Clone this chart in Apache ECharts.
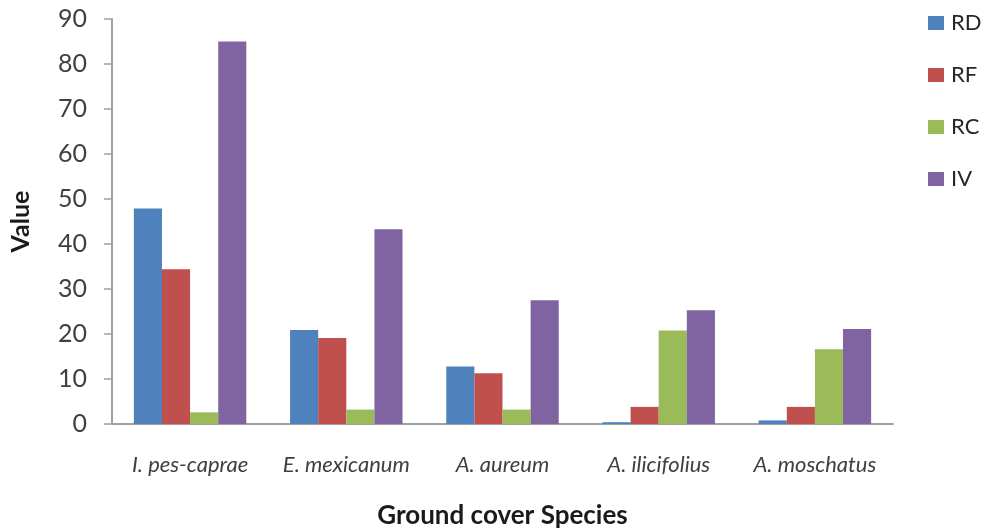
<!DOCTYPE html>
<html>
<head>
<meta charset="utf-8">
<script src="https://cdn.jsdelivr.net/npm/echarts@6/dist/echarts.min.js"></script>
<style>
  html, body { margin: 0; padding: 0; background: #fff; }
  #chart { width: 985px; height: 530px; }
</style>
</head>
<body>
<div id="chart"></div>
<script>
// Ground cover species and their index values
const species = ['I. pes-caprae', 'E. mexicanum', 'A. aureum', 'A. ilicifolius', 'A. moschatus'];
const rd = [47.9, 20.9, 12.8, 0.4, 0.8];
const rf = [34.4, 19.1, 11.3, 3.8, 3.8];
const rc = [2.6, 3.2, 3.2, 20.8, 16.6];
const iv = [85.0, 43.3, 27.5, 25.3, 21.1];
const yTicks = [0, 10, 20, 30, 40, 50, 60, 70, 80, 90];

const font = 'Lato, "Open Sans", sans-serif';
const axisGray = '#a0a0a0';
const textColor = '#404040';

function bar(name, data, color) {
  return {
    name: name,
    type: 'bar',
    data: data,
    barGap: '0%',
    barCategoryGap: '28%',
    barMinHeight: 1,
    itemStyle: { color: color }
  };
}

const chart = echarts.init(document.getElementById('chart'), null, { renderer: 'canvas' });
chart.setOption({
  animation: false,
  backgroundColor: '#ffffff',
  textStyle: { fontFamily: font },
  grid: { left: 112, right: 92, top: 19, bottom: 106, containLabel: false, outerBoundsMode: 'none' },
  legend: {
    orient: 'vertical',
    left: 928,
    top: 12,
    padding: 0,
    itemWidth: 16,
    itemHeight: 14,
    itemGap: 30,
    icon: 'rect',
    textStyle: { fontSize: 22, color: '#262626', fontFamily: font, padding: [0, 0, 0, 2] },
    data: ['RD', 'RF', 'RC', 'IV']
  },
  xAxis: {
    type: 'category',
    data: species,
    name: 'Ground cover Species',
    nameLocation: 'middle',
    nameGap: 79,
    nameTextStyle: { fontSize: 26, fontWeight: 'bold', color: '#1a1a1a', fontFamily: font },
    axisLine: { lineStyle: { color: axisGray, width: 2 } },
    axisTick: { show: false },
    axisLabel: { interval: 0, fontSize: 22, fontStyle: 'italic', color: textColor, margin: 30, fontFamily: font },
    splitLine: { show: false }
  },
  yAxis: {
    type: 'value',
    min: yTicks[0],
    max: yTicks[yTicks.length - 1],
    interval: yTicks[1] - yTicks[0],
    name: 'Value',
    nameLocation: 'middle',
    nameRotate: 90,
    nameGap: 79,
    nameTextStyle: { fontSize: 25, fontWeight: 'bold', color: '#1a1a1a', fontFamily: font },
    axisLine: { show: true, lineStyle: { color: axisGray, width: 2 } },
    axisTick: { show: true, inside: false, length: 8, lineStyle: { color: axisGray, width: 1.5 } },
    axisLabel: { fontSize: 25, color: textColor, margin: 25, fontFamily: font },
    splitLine: { show: false }
  },
  series: [
    bar('RD', rd, '#4f81bd'),
    bar('RF', rf, '#c0504d'),
    bar('RC', rc, '#9bbb59'),
    bar('IV', iv, '#8064a2')
  ]
});
</script>
</body>
</html>
